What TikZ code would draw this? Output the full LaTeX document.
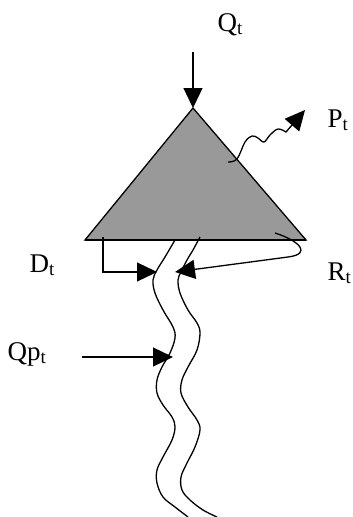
\documentclass[tikz,border=0pt]{standalone}
\usepackage{fontspec}
\setmainfont{Liberation Serif}
\usetikzlibrary{arrows.meta}
\definecolor{wsgrey}{HTML}{999999}

\begin{document}
\begin{tikzpicture}[x=1pt, y=-1pt, line width=1.3pt,
          lbl/.style={font=\fontsize{27}{31}\selectfont, inner sep=0pt, anchor=base west},
          flow/.style={-{Triangle[length=20pt, width=19pt]}},
          bank/.style={smooth, tension=.6}]
  \useasboundingbox (0,0) rectangle (353,517);
  % storage (triangle)
  \coordinate (apex) at (193,108);
  \coordinate (bl) at (85,240);
  \coordinate (br) at (306,240);
  \filldraw[fill=wsgrey] (apex) -- (br) -- (bl) -- cycle;
  \draw[line width=2.2pt] (bl) -- (br);
  % labels
  \node[lbl] (qt) at (217,31) {Q\textsubscript{t}};
  \node[lbl] (pt) at (327,127) {P\textsubscript{t}};
  \node[lbl] (dt) at (29,272) {D\textsubscript{t}};
  \node[lbl] (rt) at (327,280) {R\textsubscript{t}};
  \node[lbl] (qpt) at (7,360) {Qp\textsubscript{t}};
  % channel banks
  \draw plot[bank] coordinates {(175,240) (165,257) (157,270) (153,280) (155,293) (163,310)
        (173,327) (175,338) (170,353) (162,367) (157,380) (157,393) (163,405) (172,417)
        (175,427) (172,440) (163,457) (157,470) (157,483) (163,497) (175,507) (188,517)};
  \draw plot[bank] coordinates {(200,237) (193,250) (187,260) (181,272) (178,280) (180,293)
        (188,310) (197,323) (200,333) (197,350) (188,367) (182,380) (181,393) (188,407)
        (197,420) (200,430) (195,447) (187,463) (181,477) (182,490) (190,500) (203,510) (217,517)};
  % fluxes
  \coordinate (qin) at (193,52);
  \draw[flow] (qin) -- (apex);
  \coordinate (ps) at (228,162);
  \coordinate (ptip) at (305,110);
  \draw[flow] plot[smooth, tension=.6] coordinates {(ps) (237,159) (245,142) (252,136) (258,138)
        (264,142) (270,135) (278,129) (286,132)} -- (ptip);
  \coordinate (ds) at (103,237);
  \coordinate (dtip) at (157,272);
  \draw[flow] (ds) |- (dtip);
  \coordinate (rs) at (275,233);
  \coordinate (rtip) at (175,272);
  \draw[flow] (rs) .. controls (300,241) and (312,254) .. (288,257) -- (rtip);
  \coordinate (qps) at (82,357);
  \coordinate (qptip) at (173,357);
  \draw[flow] (qps) -- (qptip);
\end{tikzpicture}
\end{document}
